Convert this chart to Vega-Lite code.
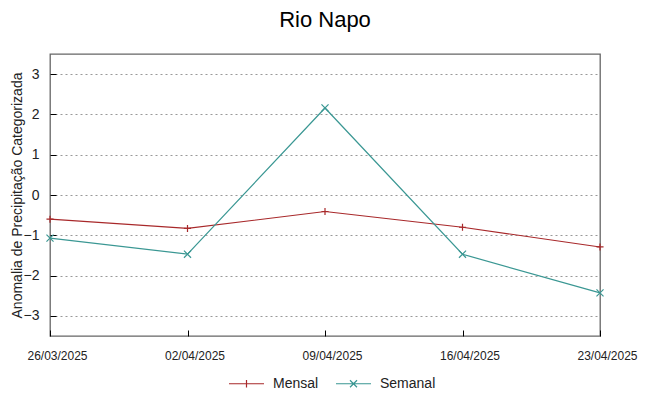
{
  "$schema": "https://vega.github.io/schema/vega-lite/v6.json",
  "autosize": {"type": "none"},
  "padding": {"left": 50, "top": 54, "right": 48, "bottom": 60},
  "width": 550,
  "height": 282,
  "title": {"text": "Rio Napo", "font": "Liberation Sans", "fontSize": 22, "fontWeight": "normal", "color": "#000", "offset": 22, "anchor": "middle"},
  "config": {
    "font": "Liberation Sans",
    "view": {"stroke": "#666", "strokeWidth": 1.3},
    "axis": {"labelFont": "Liberation Sans", "titleFont": "Liberation Sans", "labelColor": "#222", "titleColor": "#222", "domain": false}
  },
  "data": {"values": [
    {"date": "2025-03-26", "series": "Mensal", "value": -0.60},
    {"date": "2025-04-02", "series": "Mensal", "value": -0.83},
    {"date": "2025-04-09", "series": "Mensal", "value": -0.41},
    {"date": "2025-04-16", "series": "Mensal", "value": -0.80},
    {"date": "2025-04-23", "series": "Mensal", "value": -1.29},
    {"date": "2025-03-26", "series": "Semanal", "value": -1.07},
    {"date": "2025-04-02", "series": "Semanal", "value": -1.47},
    {"date": "2025-04-09", "series": "Semanal", "value": 2.16},
    {"date": "2025-04-16", "series": "Semanal", "value": -1.47},
    {"date": "2025-04-23", "series": "Semanal", "value": -2.43}
  ]},
  "encoding": {
    "x": {"field": "date", "type": "temporal", "timeUnit": "utcyearmonthdate",
      "scale": {"padding": 0, "nice": false},
      "axis": {"title": null, "format": "%d/%m/%Y", "labelFontSize": 12, "labelPadding": 20, "labelOffset": 7, "labelFlush": false, "labelBound": false, "labelOverlap": false, "tickSize": -6, "tickColor": "#000", "grid": false, "labelAngle": 0,
        "values": [
          {"year": 2025, "month": 3, "date": 26, "utc": true},
          {"year": 2025, "month": 4, "date": 2, "utc": true},
          {"year": 2025, "month": 4, "date": 9, "utc": true},
          {"year": 2025, "month": 4, "date": 16, "utc": true},
          {"year": 2025, "month": 4, "date": 23, "utc": true}
        ]}},
    "y": {"field": "value", "type": "quantitative",
      "scale": {"domain": [-3.5, 3.5], "nice": false, "zero": false},
      "axis": {"title": "Anomalia de Precipitação Categorizada", "titleFontSize": 14, "titleFontWeight": "normal", "titlePadding": -1, "labelFontSize": 14, "labelPadding": 17, "tickSize": -6, "tickColor": "#000", "values": [-3, -2, -1, 0, 1, 2, 3], "grid": true, "gridDash": [2, 3], "gridColor": "#999", "gridWidth": 1}},
    "color": {"field": "series", "type": "nominal",
      "scale": {"domain": ["Mensal", "Semanal"], "range": ["#a8282a", "#3a9793"]}}
  },
  "layer": [
    {"mark": {"type": "line", "strokeWidth": 1.2},
      "encoding": {"color": {"field": "series", "type": "nominal",
        "scale": {"domain": ["Mensal", "Semanal"], "range": ["#a8282a", "#3a9793"]},
        "legend": {"title": null, "orient": "none", "legendX": 178, "legendY": 311, "direction": "horizontal", "labelFontSize": 14, "labelColor": "#222", "symbolSize": 1225, "symbolStrokeWidth": 1.2, "columnPadding": 14, "labelOffset": 8,
          "encode": {"symbols": {"update": {"shape": {"signal": "datum.value === 'Mensal' ? 'M-1,0L1,0M0,-0.22L0,0.22' : 'M-1,0L1,0M-0.2,-0.2L0.2,0.2M-0.2,0.2L0.2,-0.2'"}, "fill": {"value": "transparent"}}}}}}}},
    {"transform": [{"filter": "datum.series === 'Mensal'"}],
      "mark": {"type": "point", "filled": false, "strokeWidth": 1.2, "size": 50, "opacity": 1, "shape": "M-1,0L1,0M0,-1L0,1"},
      "encoding": {"color": {"field": "series", "type": "nominal", "legend": null}}},
    {"transform": [{"filter": "datum.series === 'Semanal'"}],
      "mark": {"type": "point", "filled": false, "strokeWidth": 1.2, "size": 50, "opacity": 1, "shape": "M-1,-1L1,1M-1,1L1,-1"},
      "encoding": {"color": {"field": "series", "type": "nominal", "legend": null}}}
  ]
}
